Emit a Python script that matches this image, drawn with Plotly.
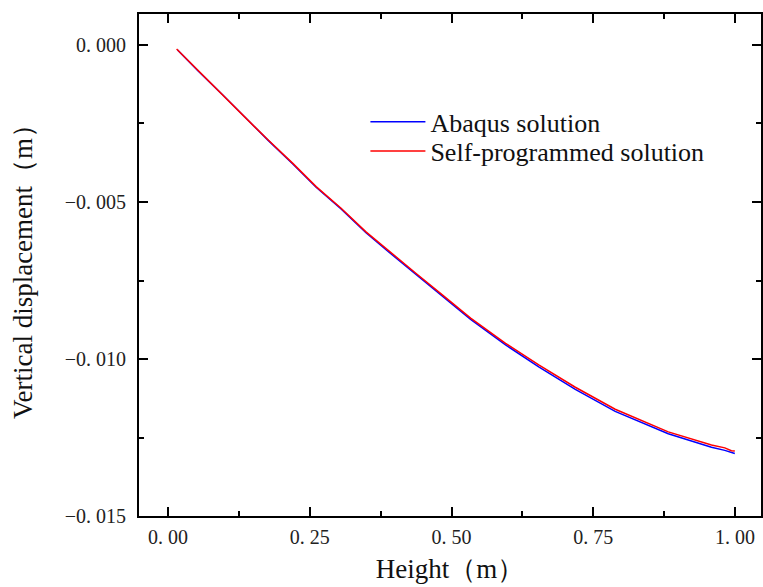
import plotly.graph_objects as go

# Height (m)
x_red = [0.0153, 0.0533, 0.0972, 0.1353, 0.1763, 0.2202, 0.2613, 0.3053, 0.3492, 0.3872,
         0.4371, 0.4838, 0.5337, 0.5953, 0.6538, 0.7183, 0.7886, 0.8822, 0.9584, 0.9819,
         0.9935, 0.9995]
y_red = [-0.00013, -0.00082, -0.00159, -0.00229, -0.00302, -0.00377, -0.00451, -0.00520,
         -0.00595, -0.00653, -0.00727, -0.00796, -0.00870, -0.00950, -0.01019, -0.01090,
         -0.01160, -0.01232, -0.01274, -0.01283, -0.01292, -0.01293]

x_blue = [0.0170, 0.0533, 0.0972, 0.1353, 0.1763, 0.2202, 0.2613, 0.3053, 0.3492, 0.3872,
          0.4371, 0.4838, 0.5337, 0.5953, 0.6538, 0.7183, 0.7886, 0.8822, 0.9584, 0.9819,
          0.9935, 0.9995]
y_blue = [-0.00016, -0.00083, -0.00160, -0.00230, -0.00303, -0.00379, -0.00453, -0.00522,
          -0.00598, -0.00656, -0.00730, -0.00799, -0.00874, -0.00955, -0.01025, -0.01097,
          -0.01167, -0.01238, -0.01281, -0.01291, -0.01296, -0.01301]

x_ticks = [0.0, 0.25, 0.5, 0.75, 1.0]
x_ticktext = ["0. 00", "0. 25", "0. 50", "0. 75", "1. 00"]
y_ticks = [0.0, -0.005, -0.010, -0.015]
y_ticktext = ["0. 000", "\u22120. 005", "\u22120. 010", "\u22120. 015"]

FONT = "Liberation Serif"

fig = go.Figure()
fig.add_trace(go.Scatter(x=x_blue, y=y_blue, mode="lines", name="Abaqus solution",
                         line=dict(color="#0000FF", width=1.5), legend="legend"))
fig.add_trace(go.Scatter(x=x_red, y=y_red, mode="lines", name="Self-programmed solution",
                         line=dict(color="#FF0000", width=1.5), legend="legend2"))

axis_common = dict(
    showline=True, linecolor="black", linewidth=2, mirror="ticks",
    ticks="inside", ticklen=9, tickwidth=2, tickcolor="black",
    showgrid=False, zeroline=False,
    tickfont=dict(family=FONT, size=20, color="#222"),
)

fig.update_xaxes(
    range=[-0.051, 1.0457], tickvals=x_ticks, ticktext=x_ticktext,
    minor=dict(ticks="inside", ticklen=5, tickwidth=1.5, tickcolor="black", dtick=0.125, tick0=0),
    title=dict(text="Height\uff08m\uff09", font=dict(family=FONT, size=27, color="#111"), standoff=12),
    ticklabelstandoff=2,
    **axis_common,
)
fig.update_yaxes(
    range=[-0.015, 0.000987], tickvals=y_ticks, ticktext=y_ticktext,
    minor=dict(ticks="inside", ticklen=5, tickwidth=1.5, tickcolor="black", dtick=0.0025, tick0=0),
    title=dict(text="Vertical displacement\uff08m\uff09", font=dict(family=FONT, size=27, color="#111"), standoff=24),
    ticklabelstandoff=7,
    **axis_common,
)

leg_common = dict(xanchor="left", yanchor="middle", itemwidth=55,
                  font=dict(family=FONT, size=26, color="#111"),
                  bgcolor="rgba(0,0,0,0)")
fig.update_layout(
    width=763, height=587,
    margin=dict(l=139, r=0, t=14, b=71),
    plot_bgcolor="white", paper_bgcolor="white",
    legend=dict(x=0.364, y=0.785, **leg_common),
    legend2=dict(x=0.364, y=0.727, **leg_common),
    showlegend=True,
)

fig.write_html("out.html")
